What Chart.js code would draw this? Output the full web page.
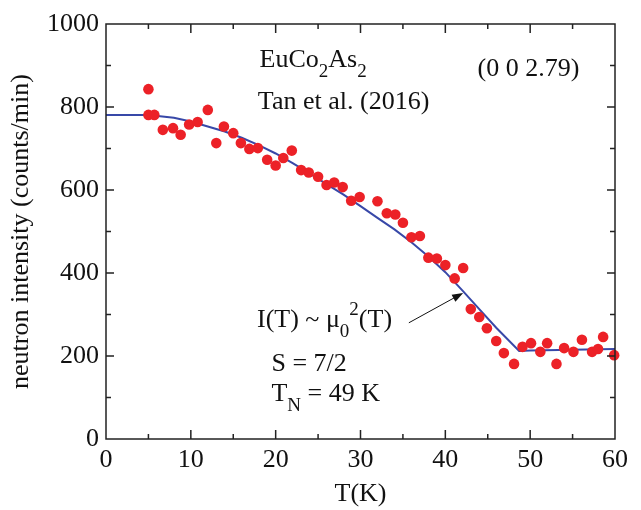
<!DOCTYPE html>
<html>
<head>
<meta charset="utf-8">
<script src="https://cdn.jsdelivr.net/npm/chart.js@4.4.0/dist/chart.umd.min.js"></script>
<style>
  html, body { margin: 0; padding: 0; background: #fff; }
  #wrap { width: 641px; height: 510px; }
</style>
</head>
<body>
<div id="wrap"><canvas id="scan" width="641" height="510"></canvas></div>
<script>
// measured intensity of the (0 0 2.79) peak
var temps = [5, 5, 5.7, 6.7, 7.9, 8.8, 9.8, 10.8, 12, 13, 13.9, 15, 15.9, 16.9, 17.9, 19, 20, 20.9, 21.9, 23,
    23.9, 25, 26, 26.9, 27.9, 28.9, 29.9, 32, 33.1, 34.1, 35, 36, 37, 38, 39, 40, 41.1, 42.1, 43, 44,
    44.9, 46, 46.9, 48.1, 49.1, 50.1, 51.2, 52, 53.1, 54, 55.1, 56.1, 57.3, 58, 58.6, 59.9];
var counts = [843, 781, 781, 745, 749, 733, 758, 764, 793, 713, 753, 737, 713, 699, 701, 673, 659, 677, 695, 648,
    642, 632, 612, 618, 607, 574, 583, 573, 544, 541, 521, 486, 489, 437, 435, 419, 387, 412, 313, 294,
    267, 236, 207, 181, 222, 231, 210, 231, 181, 219, 210, 239, 210, 217, 246, 202];

// mu0^2(T) curve, S = 7/2, TN = 49 K
var fitT = [0, 5, 8, 10, 12, 14, 16, 18, 20, 22, 24, 26, 28, 30, 32, 34, 36, 38, 40, 42, 44, 46, 48.7, 50, 55, 60];
var fitI = [781, 781, 774, 765, 753, 741, 726, 708, 688, 665, 640, 614, 589, 561, 533, 505, 474, 440, 402, 358, 313, 268, 212, 213, 215, 217];

var xTicks = [0, 10, 20, 30, 40, 50, 60];
var yTicks = [0, 200, 400, 600, 800, 1000];

var serif = "'Liberation Serif', 'Times New Roman', serif";
Chart.defaults.font.family = serif;
Chart.defaults.font.size = 26;
Chart.defaults.color = '#111';

function pts(xs, ys) {
    return xs.map(function (x, i) { return { x: x, y: ys[i] }; });
}

// text pieces: s = 'sub' / 'sup'
function rich(ctx, x, y, parts) {
    parts.forEach(function (p) {
        ctx.font = (p.s ? '19px ' : '26px ') + serif;
        var dy = p.s === 'sub' ? 10 : (p.s === 'sup' ? -12 : 0);
        ctx.fillText(p.t, x, y + dy);
        x += ctx.measureText(p.t).width;
    });
}

var notes = [
    { x: 18.1, y: 896, parts: [{ t: 'EuCo' }, { t: '2', s: 'sub' }, { t: 'As' }, { t: '2', s: 'sub' }] },
    { x: 17.9, y: 795, parts: [{ t: 'Tan et al. (2016)' }] },
    { x: 43.8, y: 875, parts: [{ t: '(0 0 2.79)' }] },
    { x: 17.8, y: 270, parts: [{ t: 'I(T) ~ \u03bc' }, { t: '0', s: 'sub' }, { t: '2', s: 'sup' }, { t: '(T)' }] },
    { x: 19.5, y: 164, parts: [{ t: 'S = 7/2' }] },
    { x: 19.5, y: 92, parts: [{ t: 'T' }, { t: 'N', s: 'sub' }, { t: ' = 49 K' }] }
];

var frame = {
    id: 'frame',
    afterDraw: function (chart) {
        var ctx = chart.ctx, a = chart.chartArea;
        var xs = chart.scales.x, ys = chart.scales.y;
        ctx.save();
        ctx.strokeStyle = '#222';
        ctx.lineWidth = 1.5;
        ctx.strokeRect(a.left, a.top, a.right - a.left, a.bottom - a.top);
        ctx.beginPath();
        for (var t = 5; t < 60; t += 5) {
            var px = xs.getPixelForValue(t), len = (t % 10 === 0) ? 9 : 5;
            ctx.moveTo(px, a.bottom); ctx.lineTo(px, a.bottom - len);
            ctx.moveTo(px, a.top); ctx.lineTo(px, a.top + len);
        }
        for (var v = 100; v < 1000; v += 100) {
            var py = ys.getPixelForValue(v), l2 = (v % 200 === 0) ? 8 : 5;
            ctx.moveTo(a.left, py); ctx.lineTo(a.left + l2, py);
            ctx.moveTo(a.right, py); ctx.lineTo(a.right - l2, py);
        }
        ctx.stroke();

        ctx.fillStyle = '#111';
        ctx.textBaseline = 'alphabetic';
        ctx.textAlign = 'left';
        notes.forEach(function (n) {
            rich(ctx, xs.getPixelForValue(n.x), ys.getPixelForValue(n.y), n.parts);
        });

        // arrow to the curve
        var x0 = xs.getPixelForValue(35.7), y0 = ys.getPixelForValue(280);
        var x1 = xs.getPixelForValue(42.1), y1 = ys.getPixelForValue(352);
        var ang = Math.atan2(y1 - y0, x1 - x0);
        ctx.strokeStyle = '#111';
        ctx.lineWidth = 1;
        ctx.beginPath();
        ctx.moveTo(x0, y0);
        ctx.lineTo(x1 - 8 * Math.cos(ang), y1 - 8 * Math.sin(ang));
        ctx.stroke();
        ctx.beginPath();
        ctx.moveTo(x1, y1);
        ctx.lineTo(x1 - 11 * Math.cos(ang) + 4 * Math.sin(ang), y1 - 11 * Math.sin(ang) - 4 * Math.cos(ang));
        ctx.lineTo(x1 - 11 * Math.cos(ang) - 4 * Math.sin(ang), y1 - 11 * Math.sin(ang) + 4 * Math.cos(ang));
        ctx.closePath();
        ctx.fill();
        ctx.restore();
    }
};

var ctx = document.getElementById('scan').getContext('2d');
var chart = new Chart(ctx, {
    type: 'scatter',
    data: {
        datasets: [{
            label: 'data',
            data: pts(temps, counts),
            backgroundColor: '#ec2127',
            borderColor: '#ec2127',
            pointRadius: 5.3,
            pointBorderWidth: 0,
            clip: false
        }, {
            type: 'line',
            label: 'fit',
            data: pts(fitT, fitI),
            borderColor: '#3848a8',
            borderWidth: 2,
            pointRadius: 0,
            fill: false,
            tension: 0
        }]
    },
    options: {
        responsive: false,
        animation: false,
        layout: { padding: { top: 24, right: 26, left: 0, bottom: 0 } },
        plugins: { legend: { display: false }, tooltip: { enabled: false } },
        scales: {
            x: {
                type: 'linear', min: 0, max: 60,
                grid: { display: false, drawTicks: false },
                border: { display: false },
                afterBuildTicks: function (s) { s.ticks = xTicks.map(function (v) { return { value: v }; }); },
                afterFit: function (s) { s.height = 71; },
                ticks: { padding: 6, maxRotation: 0, callback: function (v) { return String(v); } },
                title: { display: true, text: 'T(K)', padding: { top: 0, bottom: 0 } }
            },
            y: {
                min: 0, max: 1000,
                grid: { display: false, drawTicks: false },
                border: { display: false },
                afterBuildTicks: function (s) { s.ticks = yTicks.map(function (v) { return { value: v }; }); },
                afterFit: function (s) { s.width = 106; },
                ticks: { padding: 7, callback: function (v) { return String(v); } },
                title: { display: true, text: 'neutron intensity (counts/min)', padding: { top: 6, bottom: 0 } }
            }
        }
    },
    plugins: [frame]
});
</script>
</body>
</html>
